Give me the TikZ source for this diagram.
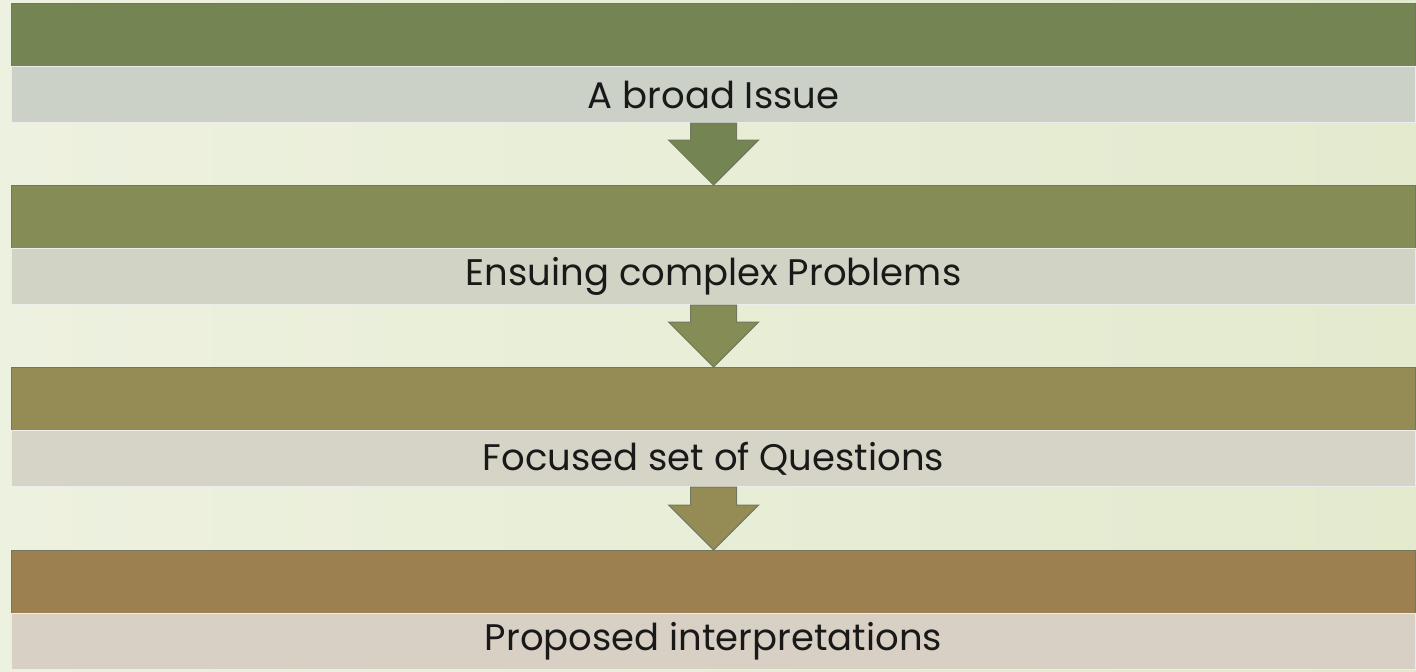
\documentclass[tikz,border=0pt]{standalone}
\usepackage{fontspec}
\setmainfont{Poppins}
\usetikzlibrary{calc}
\definecolor{bgL}{HTML}{EDF1DF}
\definecolor{bgM}{HTML}{F8F9F4}
\definecolor{bgR}{HTML}{E3EACE}
\definecolor{gA}{HTML}{748452}
\definecolor{gB}{HTML}{868C56}
\definecolor{gC}{HTML}{958C55}
\definecolor{gD}{HTML}{9C8050}
\definecolor{tA}{HTML}{CBD1C7}
\definecolor{tB}{HTML}{D1D3C5}
\definecolor{tC}{HTML}{D6D4C6}
\definecolor{tD}{HTML}{D8D0C4}
\definecolor{edgeD}{HTML}{4E5636}
\tikzset{
  headbox/.style={draw=edgeD!80, line width=0.6pt, minimum width=702pt, minimum height=31.5pt, inner sep=0pt, anchor=north west},
  labelbox/.style={draw=white!85!gray, line width=0.5pt, minimum width=702pt, minimum height=28pt, inner sep=0pt, anchor=north west, font=\fontsize{18.5}{22}\selectfont, text=black!90},
  blockarrow/.style={draw=edgeD!80, line width=0.5pt}
}
\begin{document}
\begin{tikzpicture}[x=0.5pt,y=-0.5pt]
\useasboundingbox (0,0) rectangle (1416,671);
\shade[left color=bgL, middle color=bgM, right color=bgR] (0,0) rectangle (1416,671);
% band 1
\node[headbox, fill=gA] (g1) at (11,3) {};
\node[labelbox, fill=tA] (t1) at (11,66) {A broad Issue};
% band 2
\node[headbox, fill=gB] (g2) at (11,185) {};
\node[labelbox, fill=tB] (t2) at (11,248) {Ensuing complex Problems};
% band 3
\node[headbox, fill=gC] (g3) at (11,367) {};
\node[labelbox, fill=tC] (t3) at (11,430) {Focused set of Questions};
% band 4
\node[headbox, fill=gD] (g4) at (11,550) {};
\node[labelbox, fill=tD] (t4) at (11,613) {Proposed interpretations};
% arrows
\foreach \a/\b/\c in {t1/g2/gA, t2/g3/gB, t3/g4/gC}{
  \draw[blockarrow, fill=\c] ($(\a.south)+(-23,0)$) -- ($(\b.north)+(-23,-45)$) -- ($(\b.north)+(-45,-45)$) -- (\b.north) -- ($(\b.north)+(45,-45)$) -- ($(\b.north)+(23,-45)$) -- ($(\a.south)+(23,0)$) -- cycle;
}
\end{tikzpicture}
\end{document}
